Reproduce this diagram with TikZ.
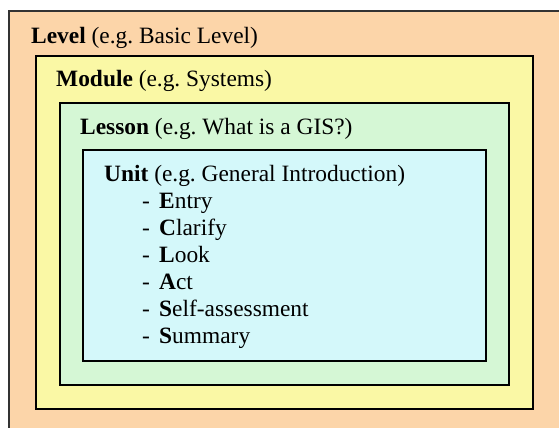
\documentclass[tikz,border=0pt]{standalone}
\usepackage{fontspec}
\setmainfont{Liberation Serif}
\frenchspacing
\definecolor{peach}{HTML}{FCD5A9}
\definecolor{lemon}{HTML}{FAF8A5}
\definecolor{mint}{HTML}{D5F7D5}
\definecolor{aqua}{HTML}{D4F8FA}
\tikzset{
  box/.style={draw=black, line width=1.6bp},
  lbl/.style={anchor=base west, inner sep=0pt, font=\fontsize{23.4bp}{27bp}\selectfont\frenchspacing},
}
\begin{document}
\begin{tikzpicture}[x=1bp,y=-1bp]
\useasboundingbox (0,0) rectangle (559,427);
\clip (0,0) rectangle (559,427);
\fill[white] (0,0) rectangle (559,427);
\filldraw[box, fill=peach, draw=black!80, line width=1.2bp] (9,11) rectangle (575,445);
\filldraw[box, fill=lemon] (36,56) rectangle (533,409);
\filldraw[box, fill=mint] (60,103) rectangle (509,385);
\filldraw[box, fill=aqua] (83,150) rectangle (486,361);
\node[lbl] (level) at (31,43.3) {\textbf{Level} (e.g. Basic Level)};
\node[lbl] (module) at (56,86.7) {\textbf{Module} (e.g. Systems)};
\node[lbl] (lesson) at (80,134) {\textbf{Lesson} (e.g. What is a GIS?)};
\node[lbl] (unit) at (104,181.7) {\textbf{Unit} (e.g. General Introduction)};
\foreach \t/\n [count=\i] in {{\textbf{E}ntry}/e,{\textbf{C}larify}/c,{\textbf{L}ook}/l,{\textbf{A}ct}/a,{\textbf{S}elf-assessment}/s,{\textbf{S}ummary}/m}{
  \node[lbl] (dash\n) at (142,181.7+26.9*\i) {-};
  \node[lbl] (item\n) at (159,181.7+26.9*\i) {\t};
}
\end{tikzpicture}
\end{document}
